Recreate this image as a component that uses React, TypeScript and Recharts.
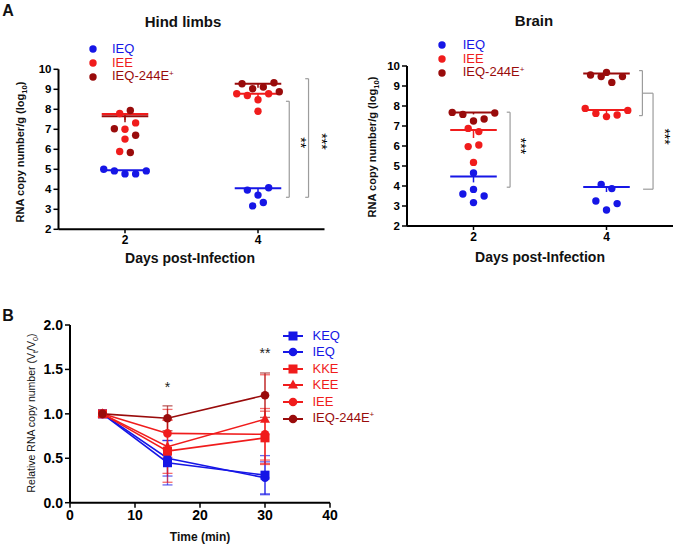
import React from 'react';
import {
  ScatterChart, Scatter, XAxis, YAxis, ReferenceLine, ReferenceDot,
  LineChart, Line, ErrorBar, Legend,
} from 'recharts';

const FONT = '"Liberation Sans", Arial, Helvetica, sans-serif';
const BLUE = '#1616e6';
const RED = '#f01c1c';
const DARK = '#990b0b';
const GREY = '#9c9c9c';

// ---------------- Panel A data ----------------
const DAYS = [2, 4];
const Y_TICKS_A = [2, 3, 4, 5, 6, 7, 8, 9, 10];
const GROUP_NAMES = ['IEQ', 'IEE', 'IEQ-244E'];
const GROUP_COLORS = [BLUE, RED, DARK];
const SLOT = 0.16; // swarm slot width (days)

// Hind limbs, [day2 values, day4 values]
const hindIEQ = [[5.0, 4.92, 4.77, 4.77, 4.92], [3.96, 4.08, 3.71, 3.17, 3.34]];
const hindIEE = [[7.79, 7.0, 7.32, 6.51, 5.89], [8.78, 8.69, 8.48, 8.78, 7.9]];
const hind244 = [[7.94, 7.03, 6.7, 5.84], [9.28, 9.33, 9.03, 9.11, 8.88]];
const hindIEQSlots = [[-2, -1, 0, 1, 2], [-1, 1, 0, -0.5, 0.5]];
const hindIEESlots = [[-0.5, 0, 1, 0, -0.5], [-2, -1, 0, 1, 0]];
const hind244Slots = [[0.5, -1, 1, 0.5], [-1.5, 1.5, -0.5, 0.5, 2]];
const hindMeans = [[4.95, 4.05], [7.77, 8.78], [7.65, 9.28]];
const hindSems = [[0.05, 0.25], [0.3, 0.17], [0.3, 0.2]];

// Brain
const brainIEQ = [[4.65, 3.83, 3.6, 3.5, 3.17], [4.08, 3.87, 3.25, 3.12, 2.8]];
const brainIEE = [[6.88, 6.72, 5.97, 6.05, 5.18], [7.88, 7.63, 7.47, 7.55, 7.78]];
const brain244 = [[7.68, 7.58, 7.65, 7.25, 7.35], [9.55, 9.47, 9.68, 9.18, 9.47]];
const brainIEQSlots = [[0, 0, -1, 1, 0], [-0.5, 0.5, -1, 1, 0]];
const brainIEESlots = [[-0.5, 0.5, -0.5, 0.5, 0], [-2, -1, 0, 1, 2]];
const brain244Slots = [[-2, -1, 2, 0, 1], [-1.5, -0.5, 0, 0.5, 1.5]];
const brainMeans = [[4.48, 3.95], [6.8, 7.8], [7.68, 9.63]];
const brainSems = [[0.3, 0.25], [0.4, 0.23], [0.1, 0.1]];

// significance brackets (polyline in data units) and stars
const hindBrackets = [
  [[4.42, 8.4], [4.47, 8.4], [4.47, 3.6], [4.42, 3.6]],
  [[4.71, 9.53], [4.76, 9.53], [4.76, 3.6], [4.71, 3.6]],
];
const hindStars = [{ x: 4.65, y: 6.33, t: '**' }, { x: 4.96, y: 6.39, t: '***' }];
const brainBrackets = [
  [[2.5, 7.69], [2.55, 7.69], [2.55, 3.94], [2.5, 3.94]],
  [[4.49, 9.77], [4.54, 9.77], [4.54, 7.52], [4.49, 7.52]],
  [[4.54, 8.64], [4.7, 8.64], [4.7, 3.84], [4.55, 3.84]],
];
const brainStars = [{ x: 2.71, y: 6.0, t: '***' }, { x: 4.88, y: 6.47, t: '***' }];

// ---------------- Panel B data ----------------
const TIMES = [5, 15, 30];
const B_NAMES = ['KEQ', 'IEQ', 'KKE', 'KEE', 'IEE', 'IEQ-244E'];
const B_COLORS = [BLUE, BLUE, RED, RED, RED, DARK];
const B_SHAPES = ['square', 'circle', 'square', 'triangle', 'circle', 'circle'];
const KEQ = [1.0, 0.45, 0.31];
const KEQ_ERR = [null, 0.25, 0.22];
const IEQ = [1.0, 0.5, 0.28];
const IEQ_ERR = [null, 0.2, 0.18];
const KKE = [1.0, 0.58, 0.73];
const KKE_ERR = [null, 0.35, 0.3];
const KEE = [1.0, 0.63, 0.94];
const KEE_ERR = [null, 0.3, 0.5];
const IEE = [1.0, 0.78, 0.77];
const IEE_ERR = [null, 0.27, 0.29];
const E244 = [1.0, 0.95, 1.21];
const E244_ERR = [null, 0.14, 0.25];
const B_VALUES = [KEQ, IEQ, KKE, KEE, IEE, E244];
const B_ERRS = [KEQ_ERR, IEQ_ERR, KKE_ERR, KEE_ERR, IEE_ERR, E244_ERR];
const B_STARS = [{ x: 15, y: 1.3, t: '*' }, { x: 30, y: 1.69, t: '**' }];

const bRows = TIMES.map((t, i) => {
  const row: any = { t };
  B_NAMES.forEach((n, k) => {
    row['v' + k] = B_VALUES[k][i];
    row['e' + k] = B_ERRS[k][i];
  });
  return row;
});

// ---------------- helpers ----------------
const buildPoints = (values: number[][], slots: number[][]) =>
  values.flatMap((vals, d) => vals.map((y, i) => ({ x: DAYS[d] + slots[d][i] * SLOT, y })));

const Sup = () => (
  <span style={{ fontSize: '0.62em', position: 'relative', top: '-0.55em' }}>+</span>
);

function Txt({ x, y, size, bold, rotate, children }: any) {
  return (
    <div
      style={{
        position: 'absolute', left: x, top: y, whiteSpace: 'nowrap',
        transform: `translate(-50%, -50%)${rotate ? ' rotate(-90deg)' : ''}`,
        fontSize: size, fontWeight: bold ? 'bold' : 'normal', color: '#111',
        fontFamily: FONT, lineHeight: 1,
      }}
    >
      {children}
    </div>
  );
}

const dotShape = (color: string) => (p: any) => <circle cx={p.cx} cy={p.cy} r={3.7} fill={color} />;

function DotLegend({ gap }: any) {
  return (
    <div style={{ fontFamily: FONT, whiteSpace: 'nowrap' }}>
      {GROUP_NAMES.map((n, i) => (
        <div key={n} style={{ display: 'flex', alignItems: 'center', height: 14 }}>
          <svg width={10} height={10}><circle cx={5} cy={5} r={3.7} fill={GROUP_COLORS[i]} /></svg>
          <span style={{ marginLeft: gap, color: GROUP_COLORS[i], fontSize: 13, lineHeight: '14px' }}>
            {n}{i === 2 ? <Sup /> : null}
          </span>
        </div>
      ))}
    </div>
  );
}

function SwarmPanel({ groups, means, sems, brackets, stars, margin, legendLeft, legendTop, legendGap }: any) {
  const axisTick = { fill: '#000', fontSize: 11.5, fontWeight: 'bold', fontFamily: FONT };
  return (
    <ScatterChart width={340} height={280} margin={margin}>
      <XAxis
        type="number" dataKey="x" domain={[1, 5]} ticks={DAYS} height={30}
        axisLine={{ stroke: '#000', strokeWidth: 2 }} tickLine={{ stroke: '#000', strokeWidth: 1.5 }}
        tickSize={4} tick={{ ...axisTick, fontSize: 12 }}
      />
      <YAxis
        type="number" dataKey="y" domain={[2, 10]} ticks={Y_TICKS_A} interval={0} width={40}
        axisLine={{ stroke: '#000', strokeWidth: 2 }} tickLine={{ stroke: '#000', strokeWidth: 1.5 }}
        tickSize={5} tick={axisTick}
      />
      {brackets.flatMap((b: number[][], bi: number) =>
        b.slice(1).map((pt, j) => (
          <ReferenceLine
            key={`b${bi}-${j}`} ifOverflow="visible"
            segment={[{ x: b[j][0], y: b[j][1] }, { x: pt[0], y: pt[1] }]}
            stroke={GREY} strokeWidth={1.2}
          />
        ))
      )}
      {groups.map((g: any, gi: number) => (
        <Scatter key={gi} data={g} shape={dotShape(GROUP_COLORS[gi])} isAnimationActive={false} />
      ))}
      {means.flatMap((m: number[], gi: number) =>
        m.flatMap((v, d) => [
          <ReferenceLine
            key={`m${gi}-${d}`} ifOverflow="visible"
            segment={[{ x: DAYS[d] - 0.35, y: v }, { x: DAYS[d] + 0.35, y: v }]}
            stroke={GROUP_COLORS[gi]} strokeWidth={2}
          />,
          <ReferenceLine
            key={`s${gi}-${d}`} ifOverflow="visible"
            segment={[{ x: DAYS[d], y: v }, { x: DAYS[d], y: v - sems[gi][d] }]}
            stroke={GROUP_COLORS[gi]} strokeWidth={1.5}
          />,
        ])
      )}
      {stars.map((s: any, i: number) => (
        <ReferenceDot
          key={`st${i}`} x={s.x} y={s.y} r={0} ifOverflow="visible" fill="#000" stroke="none"
          label={{ value: s.t, angle: 90, position: 'center', fill: '#000', fontSize: 14, fontFamily: FONT }}
        />
      ))}
      <Legend
        layout="vertical" align="center" verticalAlign="middle"
        wrapperStyle={{ left: legendLeft, top: legendTop, width: 140, height: 42 }}
        content={() => <DotLegend gap={legendGap} />}
      />
    </ScatterChart>
  );
}

function Marker({ shape, color, cx, cy }: any) {
  if (shape === 'square') return <rect x={cx - 4.5} y={cy - 4.5} width={9} height={9} fill={color} />;
  if (shape === 'triangle')
    return <polygon points={`${cx},${cy - 5.5} ${cx + 5},${cy + 3.5} ${cx - 5},${cy + 3.5}`} fill={color} />;
  return <circle cx={cx} cy={cy} r={4.3} fill={color} />;
}

function LineLegend() {
  return (
    <div style={{ fontFamily: FONT, whiteSpace: 'nowrap' }}>
      {B_NAMES.map((n, i) => (
        <div key={n} style={{ display: 'flex', alignItems: 'center', height: 16.6 }}>
          <svg width={20} height={12}>
            <line x1={0} y1={6} x2={20} y2={6} stroke={B_COLORS[i]} strokeWidth={2} />
            <Marker shape={B_SHAPES[i]} color={B_COLORS[i]} cx={10} cy={6} />
          </svg>
          <span style={{ marginLeft: 10, color: B_COLORS[i], fontSize: 13, lineHeight: '14px' }}>
            {n}{i === 5 ? <Sup /> : null}
          </span>
        </div>
      ))}
    </div>
  );
}

function PanelB() {
  const tick = { fill: '#000', fontSize: 14, fontWeight: 'bold', fontFamily: FONT };
  return (
    <LineChart width={340} height={244} data={bRows} margin={{ top: 25, right: 10, bottom: 11.3, left: 10 }}>
      <XAxis
        type="number" dataKey="t" domain={[0, 40]} ticks={[0, 10, 20, 30, 40]} height={30}
        axisLine={{ stroke: '#000', strokeWidth: 2 }} tickLine={{ stroke: '#000', strokeWidth: 1.5 }}
        tickSize={5} tick={tick}
      />
      <YAxis
        type="number" domain={[0, 2]} ticks={[0, 0.5, 1, 1.5, 2]} interval={0} width={60}
        tickFormatter={(v: number) => v.toFixed(1)}
        axisLine={{ stroke: '#000', strokeWidth: 2 }} tickLine={{ stroke: '#000', strokeWidth: 1.5 }}
        tickSize={5} tick={tick}
      />
      {B_NAMES.map((n, k) => (
        <Line
          key={n} dataKey={'v' + k} stroke={B_COLORS[k]} strokeWidth={1.6}
          isAnimationActive={false} activeDot={false}
          dot={(p: any) => (
            <g key={`d${k}-${p.index}`}>
              <Marker shape={B_SHAPES[k]} color={B_COLORS[k]} cx={p.cx} cy={p.cy} />
            </g>
          )}
        >
          <ErrorBar dataKey={'e' + k} width={5} stroke={B_COLORS[k]} strokeOpacity={0.65} strokeWidth={1.3} direction="y" isAnimationActive={false} />
        </Line>
      ))}
      {B_STARS.map((s, i) => (
        <ReferenceDot
          key={`bs${i}`} x={s.x} y={s.y} r={0} ifOverflow="visible"
          label={{ value: s.t, position: 'center', fill: '#222', fontSize: 14, fontFamily: FONT }}
        />
      ))}
      <Legend
        layout="vertical" align="center" verticalAlign="middle"
        wrapperStyle={{ left: 282.5, top: 27.4, width: 130, height: 100 }}
        content={() => <LineLegend />}
      />
    </LineChart>
  );
}

export default function App() {
  const hindGroups = [
    buildPoints(hindIEQ, hindIEQSlots),
    buildPoints(hindIEE, hindIEESlots),
    buildPoints(hind244, hind244Slots),
  ];
  const brainGroups = [
    buildPoints(brainIEQ, brainIEQSlots),
    buildPoints(brainIEE, brainIEESlots),
    buildPoints(brain244, brain244Slots),
  ];
  return (
    <div style={{ position: 'absolute', left: 0, top: 0, width: 676, height: 544, background: '#fff', fontFamily: FONT, overflow: 'hidden' }}>
      <div style={{ position: 'absolute', left: 0, top: 0 }}>
        <SwarmPanel
          groups={hindGroups} means={hindMeans} sems={hindSems} brackets={hindBrackets} stars={hindStars}
          margin={{ top: 69.3, right: 15.5, bottom: 20.7, left: 18.5 }}
          legendLeft={88} legendTop={42} legendGap={14}
        />
      </div>
      <div style={{ position: 'absolute', left: 336, top: 0 }}>
        <SwarmPanel
          groups={brainGroups} means={brainMeans} sems={brainSems} brackets={brainBrackets} stars={brainStars}
          margin={{ top: 66, right: 3, bottom: 24, left: 31 }}
          legendLeft={101} legendTop={38} legendGap={15.7}
        />
      </div>
      <div style={{ position: 'absolute', left: 0, top: 300 }}>
        <PanelB />
      </div>

      <Txt x={8} y={11} size={16} bold>A</Txt>
      <Txt x={183} y={21} size={15} bold>Hind limbs</Txt>
      <Txt x={534} y={20} size={15} bold>Brain</Txt>
      <Txt x={190} y={258} size={14} bold>Days post-Infection</Txt>
      <Txt x={540} y={257} size={14} bold>Days post-Infection</Txt>
      <Txt x={22} y={152} size={11} bold rotate>
        RNA copy number/g (log<sub style={{ fontSize: '0.7em' }}>10</sub>)
      </Txt>
      <Txt x={374} y={147} size={11} bold rotate>
        RNA copy number/g (log<sub style={{ fontSize: '0.7em' }}>10</sub>)
      </Txt>
      <Txt x={8} y={316} size={16} bold>B</Txt>
      <Txt x={200} y={537} size={12} bold>Time (min)</Txt>
      <Txt x={33} y={413} size={10.5} rotate>
        Relative RNA copy number (V<sub style={{ fontSize: '0.7em' }}>t</sub>/V<sub style={{ fontSize: '0.7em' }}>0</sub>)
      </Txt>
    </div>
  );
}
